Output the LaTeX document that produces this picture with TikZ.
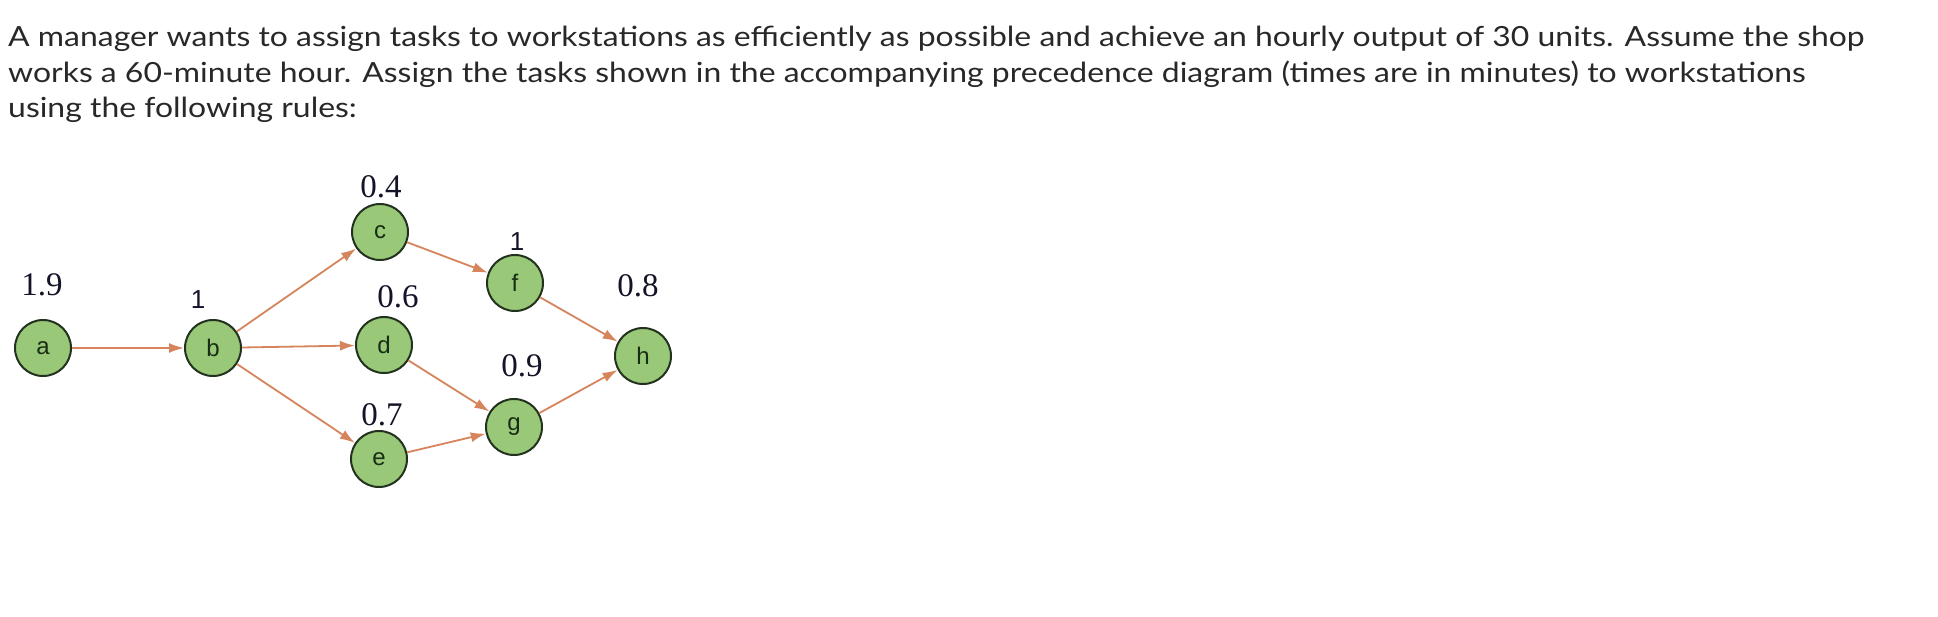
\documentclass[tikz,border=0pt]{standalone}
\usepackage{fontspec}
\setmainfont{Liberation Serif}
\newfontfamily\bodyfnt[FakeStretch=1.15]{Lato}
\newfontfamily\nodefnt{Liberation Sans}
\usetikzlibrary{arrows.meta}
\definecolor{txt}{RGB}{40,40,40}
\definecolor{nodefill}{RGB}{152,200,120}
\definecolor{nodeline}{RGB}{35,50,30}
\definecolor{edgecol}{RGB}{214,132,92}
\definecolor{numcol}{RGB}{20,20,40}
\definecolor{lettercol}{RGB}{25,45,20}
\begin{document}
\begin{tikzpicture}[x=1pt,y=-1pt,
  textline/.style={anchor=base west,inner sep=0pt,text=txt,font=\bodyfnt\fontsize{27.75}{30}\selectfont},
  task/.style={circle,draw=nodeline,line width=2pt,fill=nodefill,minimum size=56pt,inner sep=0pt,
    font=\nodefnt\fontsize{24}{25}\selectfont,text=lettercol},
  serifnum/.style={inner sep=0pt,text=numcol,font=\fontsize{33}{34}\selectfont},
  sansnum/.style={inner sep=0pt,text=numcol,font=\nodefnt\fontsize{26}{27}\selectfont},
  edge/.style={draw=edgecol,line width=1.8pt,-{Latex[length=15pt,width=10pt]}}]
\fill[white] (0,0) rectangle (1938,616);
\useasboundingbox (0,0) rectangle (1938,616);
\node[textline] (l1) at (8,46) {A manager wants to assign tasks to workstations as efficiently as possible and achieve an hourly output of 30 units. Assume the shop};
\node[textline] (l2) at (8,82) {works a 60-minute hour. Assign the tasks shown in the accompanying precedence diagram (times are in minutes) to workstations};
\node[textline] (l3) at (8,117) {using the following rules:};
\node[task] (a) at (43,348) {a};
\node[task] (b) at (213,348) {b};
\node[task] (c) at (380,232) {c};
\node[task] (d) at (384,345) {d};
\node[task] (e) at (379,459) {e};
\node[task] (f) at (515,283) {f};
\node[task] (g) at (514,427) {g};
\node[task] (h) at (643,356) {h};
\node[serifnum] (ta) at (42,285) {1.9};
\node[sansnum] (tb) at (198,300) {1};
\node[serifnum] (tc) at (381,187) {0.4};
\node[serifnum] (td) at (398,297) {0.6};
\node[serifnum] (te) at (382,415) {0.7};
\node[sansnum] (tf) at (517,242) {1};
\node[serifnum] (tg) at (522,366) {0.9};
\node[serifnum] (th) at (638,286) {0.8};
\draw[edge] (a) -- (b);
\draw[edge] (b) -- (c);
\draw[edge] (b) -- (d);
\draw[edge] (b) -- (e);
\draw[edge] (c) -- (f);
\draw[edge] (d) -- (g);
\draw[edge] (e) -- (g);
\draw[edge] (f) -- (h);
\draw[edge] (g) -- (h);
\end{tikzpicture}
\end{document}
